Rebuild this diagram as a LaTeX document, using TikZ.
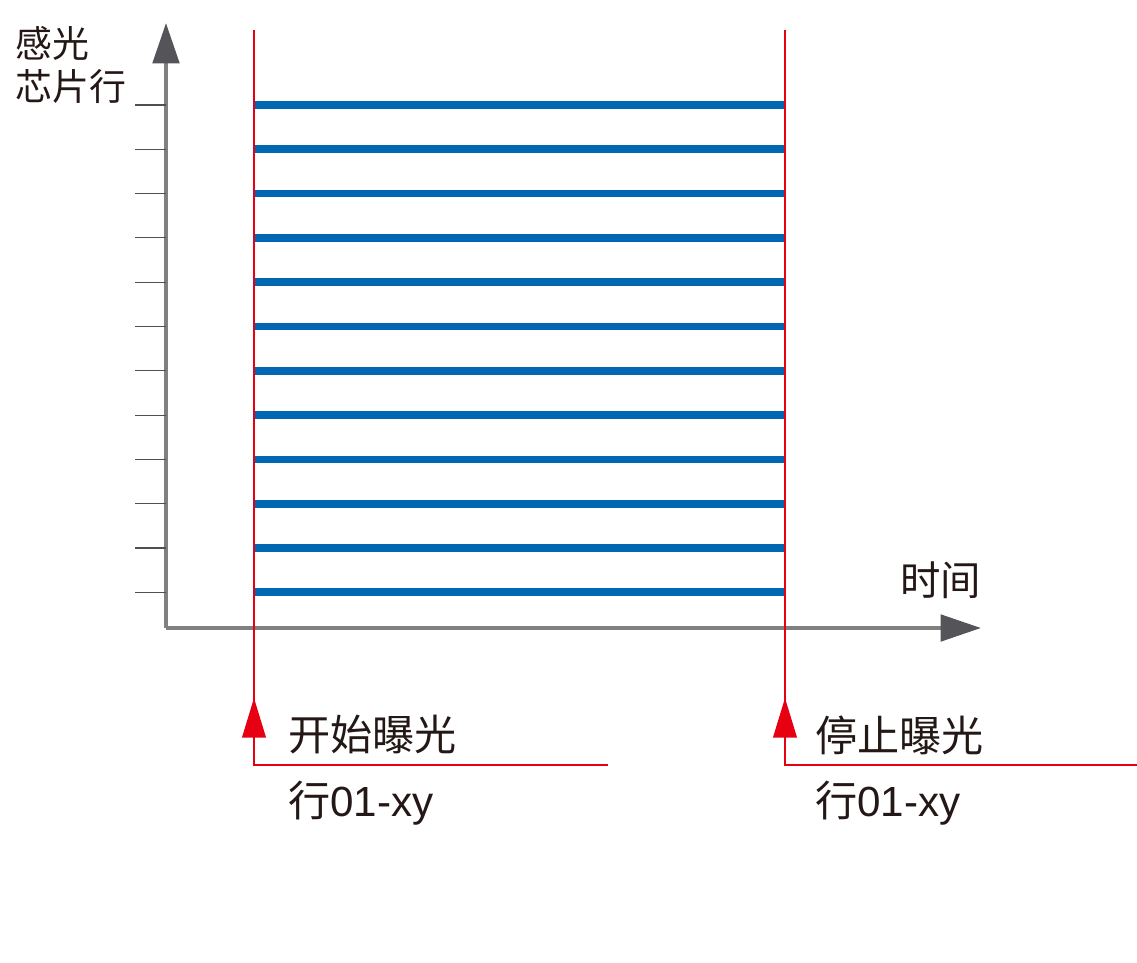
\documentclass[tikz,border=0pt]{standalone}
\usepackage{fontspec}
\setmainfont{Liberation Sans}
\newfontfamily\cjkfont{Noto Sans CJK SC}
\usetikzlibrary{arrows.meta, positioning}
\definecolor{axisgray}{RGB}{128, 128, 128}
\definecolor{tipgray}{RGB}{85, 84, 88}
\definecolor{tickgray}{RGB}{80, 80, 80}
\definecolor{rowblue}{RGB}{0, 104, 178}
\definecolor{markred}{RGB}{230, 0, 18}
\definecolor{textblack}{RGB}{35, 24, 21}
\tikzset{
  axisline/.style={line width=2.3pt, color=axisgray,
              -{Triangle[length=23pt, width=15pt, color=tipgray]}},
  tickline/.style={line width=0.6pt, color=tickgray},
  rowline/.style={line width=4.4pt, color=rowblue},
  markline/.style={line width=0.8pt, color=markred},
  markarrow/.style={line width=0.8pt, color=markred,
              -{Triangle[length=22.5pt, width=13.5pt]}},
  biglabel/.style={font=\fontsize{24}{28}\selectfont, text=textblack,
              inner sep=0pt, anchor=west},
  axislabel/.style={font=\cjkfont\fontsize{#1}{25}\selectfont, text=textblack,
              inner sep=0pt, anchor=west, align=left},
  axislabel/.default=21,
}

\begin{document}
\begin{tikzpicture}[x=0.02cm, y=-0.02cm]
  \useasboundingbox (0,0) rectangle (1137,963);

  % axes
  \coordinate (origin) at (166,628);
  \coordinate (ytip) at (166,23);
  \coordinate (xtip) at (981,628);
  \draw[axisline] (origin) -- (ytip);
  \draw[axisline] (origin) -- (xtip);
  \node[axislabel] (rowlabel) at (15,65) {感光\\芯片行};
  \node[axislabel=23] (timelabel) at (900,580) {时间};

  % exposure markers
  \coordinate (starttop) at (254,30);
  \coordinate (startcorner) at (254,765);
  \coordinate (startend) at (608,765);
  \coordinate (starttip) at (254,698);
  \coordinate (stoptop) at (785,30);
  \coordinate (stopcorner) at (785,765);
  \coordinate (stopend) at (1137,765);
  \coordinate (stoptip) at (785,698);

  % sensor rows
  \foreach \i in {0,...,11}{
    \pgfmathsetmacro{\rowy}{105+44.3*\i}
    \coordinate (tick\i) at (135,\rowy);
    \coordinate (rowstart\i) at (254,\rowy);
    \coordinate (rowend\i) at (785,\rowy);
    \draw[tickline] (tick\i) -- (origin|-tick\i);
    \draw[rowline] (rowstart\i) -- (rowend\i);
  }

  \draw[markline] (starttop) -- (startcorner) -- (startend);
  \draw[markline] (stoptop) -- (stopcorner) -- (stopend);
  \draw[markarrow] (startcorner) -- (starttip);
  \draw[markarrow] (stopcorner) -- (stoptip);

  \node[biglabel] (startlabel) at (288,735) {\cjkfont 开始曝光};
  \node[biglabel] (startrow) at (288,803) {{\cjkfont 行}01-xy};
  \node[biglabel] (stoplabel) at (815,735) {\cjkfont 停止曝光};
  \node[biglabel] (stoprow) at (815,803) {{\cjkfont 行}01-xy};
\end{tikzpicture}
\end{document}
